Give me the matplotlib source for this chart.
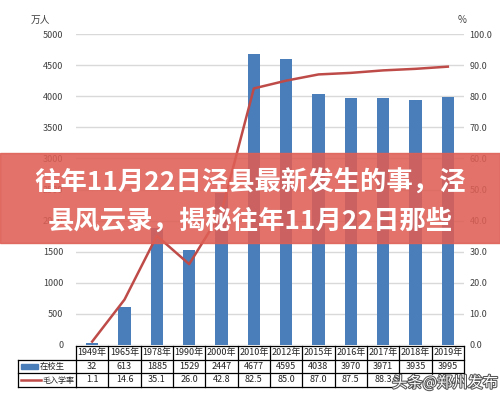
import matplotlib
matplotlib.use("Agg")
import matplotlib.pyplot as plt
import matplotlib.transforms as mtransforms
import matplotlib.patheffects as pe
from matplotlib.patches import Rectangle
from matplotlib.lines import Line2D

plt.rcParams['font.family'] = ['Noto Sans CJK SC', 'DejaVu Sans']

years = ["1949年", "1965年", "1978年", "1990年", "2000年", "2010年", "2012年",
         "2015年", "2016年", "2017年", "2018年", "2019年"]
students = [32, 613, 1885, 1529, 2447, 4677, 4595, 4038, 3970, 3971, 3935, 3995]
rate = [1.1, 14.6, 35.1, 26.0, 42.8, 82.5, 85.0, 87.0, 87.5, 88.3, 88.8, 89.5]
left_ticks = list(range(0, 5001, 500))
right_ticks = list(range(0, 101, 10))
series_names = ["在校生", "毛入学率"]
title_lines = ["往年11月22日泾县最新发生的事，泾", "县风云录，揭秘往年11月22日那些"]
watermark = "头条@郑州发布"

W, H = 500, 399
fig = plt.figure(figsize=(W / 100, H / 100), dpi=100)

def fx(px):
    return px / W

def fy(py):
    return 1 - py / H

ax_l, ax_r, ax_t, ax_b = 76, 464, 34, 345
ax = fig.add_axes([fx(ax_l), fy(ax_b), fx(ax_r - ax_l), (ax_b - ax_t) / H])
n = len(years)
xs = list(range(n))
ax.bar(xs, students, width=0.39, color='#4a7ebb', zorder=2)
ax.set_xlim(-0.5, n - 0.5)
ax.set_ylim(0, 5000)
ax.set_yticks(left_ticks)
ax.set_yticklabels([str(v) for v in left_ticks], fontsize=6.5, color='#404040')
ax.set_xticks([])
ax.grid(axis='y', color='#d9d9d9', linewidth=1, zorder=0)
for s in ax.spines.values():
    s.set_visible(False)
ax.tick_params(axis='y', length=0, pad=9)

ax2 = ax.twinx()
ax2.plot(xs, rate, color='#be4b48', linewidth=1.8, zorder=3)
ax2.set_ylim(0, 100)
ax2.set_yticks(right_ticks)
ax2.set_yticklabels([f"{v:.1f}" for v in right_ticks], fontsize=6.5, color='#404040')
ax2.tick_params(axis='y', length=0, pad=4)
for s in ax2.spines.values():
    s.set_visible(False)

fig.text(fx(40), fy(20), "万人", fontsize=7, color='#404040', ha='center', va='center')
fig.text(fx(462), fy(20), "%", fontsize=7, color='#404040', ha='center', va='center')

# table
tb = mtransforms.blended_transform_factory(ax.transData, fig.transFigure)
rows = [346, 359.5, 373, 387]
lw = 0.9
for y in rows:
    fig.add_artist(Line2D([fx(ax_l), fx(ax_r)], [fy(y), fy(y)], color='black', lw=lw))
for i in range(n + 1):
    xe = fx(ax_l + (ax_r - ax_l) * i / n)
    fig.add_artist(Line2D([xe, xe], [fy(rows[0]), fy(rows[-1])], color='black', lw=lw))
for y in rows[1:]:
    fig.add_artist(Line2D([fx(18), fx(ax_l)], [fy(y), fy(y)], color='black', lw=lw))
fig.add_artist(Line2D([fx(18), fx(18)], [fy(rows[1]), fy(rows[-1])], color='black', lw=lw))
for i in range(n):
    fig.text(i, fy((rows[0] + rows[1]) / 2), years[i], transform=tb, fontsize=6.5,
             ha='center', va='center', color='#222222')
    fig.text(i, fy((rows[1] + rows[2]) / 2), str(students[i]), transform=tb, fontsize=6.5,
             ha='center', va='center', color='#222222')
    fig.text(i, fy((rows[2] + rows[3]) / 2), f"{rate[i]:.1f}", transform=tb, fontsize=6.5,
             ha='center', va='center', color='#222222')
fig.add_artist(Rectangle((fx(21), fy(368.5)), fx(17), 4.5 / H, color='#4a7ebb'))
fig.text(fx(40), fy((rows[1] + rows[2]) / 2), series_names[0], fontsize=6,
         ha='left', va='center', color='#222222')
fig.add_artist(Line2D([fx(21), fx(41)], [fy(380), fy(380)], color='#be4b48', lw=1.8))
fig.text(fx(42), fy((rows[2] + rows[3]) / 2), series_names[1], fontsize=5.8,
         ha='left', va='center', color='#222222')

# banner
fig.add_artist(Rectangle((0, fy(243)), 1, 90 / H, color='#de5f55', alpha=0.88, zorder=10))
fig.text(0.5, fy(183), title_lines[0], fontsize=19, fontweight='bold', color='white',
         ha='center', va='center', zorder=11)
fig.text(0.5, fy(221), title_lines[1], fontsize=19, fontweight='bold', color='white',
         ha='center', va='center', zorder=11)

# watermark
fig.add_artist(Rectangle((fx(398), fy(392)), fx(100), 17 / H, color='white', zorder=11.5))
fig.text(fx(445), fy(383), watermark, fontsize=11, color='white', ha='center', va='center',
         zorder=12, path_effects=[pe.withStroke(linewidth=1.5, foreground='#555555')])

fig.savefig("out.png", dpi=100)
